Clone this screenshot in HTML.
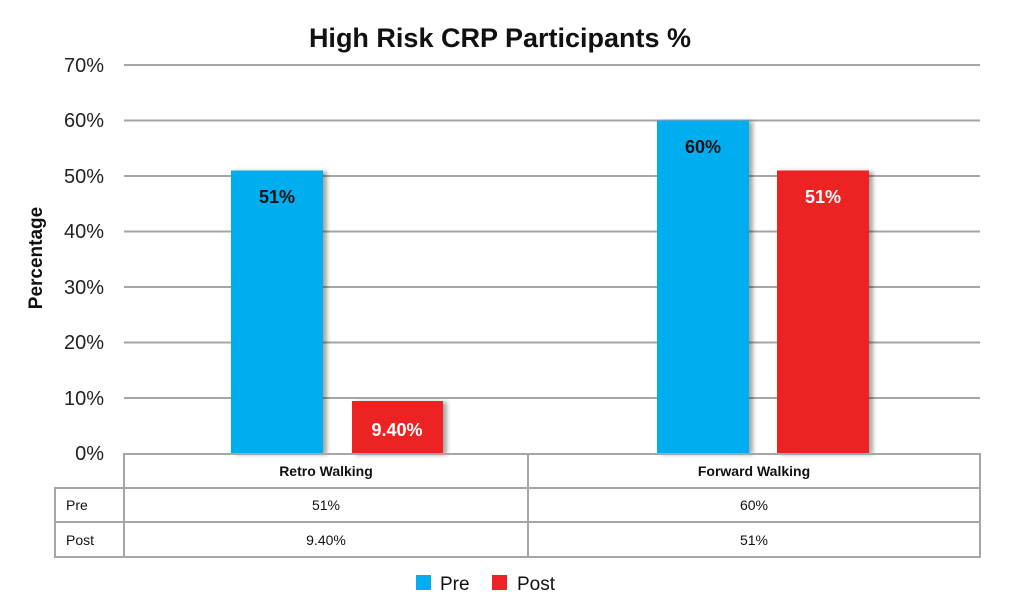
<!DOCTYPE html>
<html><head><meta charset="utf-8"><style>
html,body{margin:0;padding:0;background:#fff;}
svg{display:block;font-family:"Liberation Sans",Arial,sans-serif;}
</style></head><body>
<svg width="1024" height="615" viewBox="0 0 1024 615" xmlns="http://www.w3.org/2000/svg">
<defs>
<filter id="sh" x="-20%" y="-20%" width="150%" height="150%"><feDropShadow dx="4" dy="1" stdDeviation="2" flood-color="#000" flood-opacity="0.35"/></filter>
</defs>
<text x="500" y="47" text-anchor="middle" font-size="27" font-weight="bold" fill="#111">High Risk CRP Participants %</text>
<g stroke="#a6a6a6" stroke-width="2">
<line x1="124" y1="65" x2="980" y2="65"/>
<line x1="124" y1="120.5" x2="980" y2="120.5"/>
<line x1="124" y1="176" x2="980" y2="176"/>
<line x1="124" y1="231.5" x2="980" y2="231.5"/>
<line x1="124" y1="287" x2="980" y2="287"/>
<line x1="124" y1="342.5" x2="980" y2="342.5"/>
<line x1="124" y1="398" x2="980" y2="398"/>
</g>
<g font-size="20" fill="#222" text-anchor="end">
<text x="104" y="72">70%</text>
<text x="104" y="127">60%</text>
<text x="104" y="183">50%</text>
<text x="104" y="238">40%</text>
<text x="104" y="294">30%</text>
<text x="104" y="349">20%</text>
<text x="104" y="405">10%</text>
<text x="104" y="460">0%</text>
</g>
<text transform="translate(42,258) rotate(-90)" text-anchor="middle" font-size="19" font-weight="bold" fill="#111">Percentage</text>
<g filter="url(#sh)">
<rect x="231" y="170.5" width="92" height="283" fill="#00aeef"/>
<rect x="352" y="401" width="91" height="53" fill="#ed2224"/>
<rect x="657" y="120.5" width="92" height="333" fill="#00aeef"/>
<rect x="777" y="170.5" width="92" height="283" fill="#ed2224"/>
</g>
<g font-size="18" font-weight="bold" text-anchor="middle">
<text x="277" y="203" fill="#111">51%</text>
<text x="397" y="436" fill="#fff">9.40%</text>
<text x="703" y="153" fill="#111">60%</text>
<text x="823" y="203" fill="#fff">51%</text>
</g>
<g stroke="#a6a6a6" stroke-width="2" fill="none">
<rect x="124" y="454" width="856" height="103"/>
<rect x="55" y="488" width="69" height="69"/>
<line x1="124" y1="488" x2="980" y2="488"/>
<line x1="55" y1="522" x2="980" y2="522"/>
<line x1="528" y1="454" x2="528" y2="557"/>
</g>
<g font-size="14" fill="#111" text-anchor="middle">
<text x="326" y="476" font-weight="bold">Retro Walking</text>
<text x="754" y="476" font-weight="bold">Forward Walking</text>
<text x="326" y="510">51%</text>
<text x="754" y="510">60%</text>
<text x="326" y="545">9.40%</text>
<text x="754" y="545">51%</text>
<text x="66" y="510" text-anchor="start">Pre</text>
<text x="66" y="545" text-anchor="start">Post</text>
</g>
<rect x="416" y="575" width="15" height="15" fill="#00aeef"/>
<text x="440" y="590" font-size="19" fill="#111">Pre</text>
<rect x="492" y="575" width="15" height="15" fill="#ed2224"/>
<text x="517" y="590" font-size="19" fill="#111">Post</text>
</svg>
</body></html>
